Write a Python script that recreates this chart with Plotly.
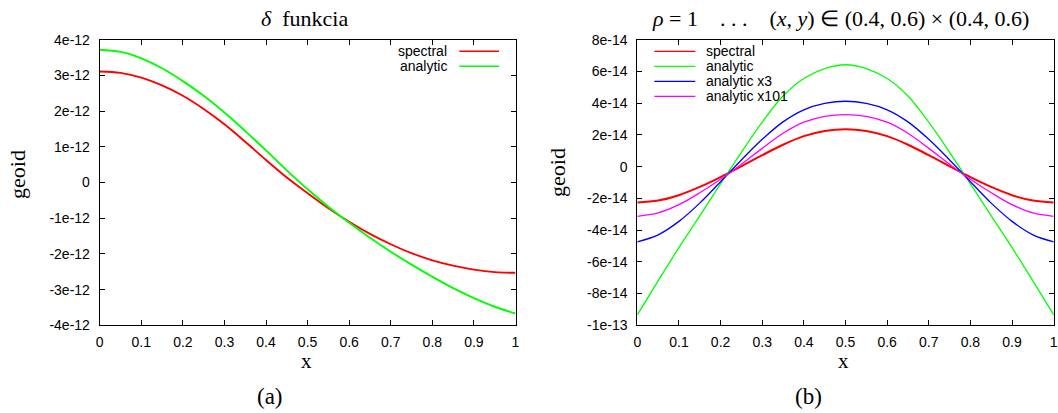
import plotly.graph_objects as go

# ---------------- data ----------------
x_pts = [0.00, 0.05, 0.10, 0.15, 0.20, 0.25, 0.30, 0.35, 0.40, 0.45, 0.50,
         0.55, 0.60, 0.65, 0.70, 0.75, 0.80, 0.85, 0.90, 0.95, 1.00]

# panel (a), values in units of 1e-12
a_spectral = [3.11, 3.07, 2.94, 2.72, 2.43, 2.06, 1.63, 1.14, 0.63, 0.14, -0.30,
              -0.72, -1.10, -1.44, -1.73, -1.98, -2.18, -2.33, -2.44, -2.51, -2.53]
a_analytic = [3.72, 3.66, 3.48, 3.20, 2.84, 2.43, 1.96, 1.44, 0.90, 0.34, -0.19,
              -0.68, -1.13, -1.55, -1.94, -2.30, -2.64, -2.96, -3.24, -3.48, -3.67]
a_scale = 1e-12

# panel (b), values in units of 1e-14
b_spectral = [-2.26, -2.14, -1.80, -1.28, -0.66, 0.02, 0.72, 1.38, 1.92, 2.25, 2.36,
              2.25, 1.92, 1.38, 0.72, 0.02, -0.66, -1.28, -1.80, -2.14, -2.26]
b_analytic = [-9.34, -7.20, -5.10, -3.10, -1.08, 0.90, 2.80, 4.45, 5.55, 6.18, 6.42,
              6.18, 5.55, 4.45, 2.80, 0.90, -1.08, -3.10, -5.10, -7.20, -9.34]
b_analytic_x3 = [-4.74, -4.30, -3.45, -2.30, -0.95, 0.42, 1.72, 2.82, 3.58, 3.98, 4.12,
                 3.98, 3.58, 2.82, 1.72, 0.42, -0.95, -2.30, -3.45, -4.30, -4.74]
b_analytic_x101 = [-3.13, -2.92, -2.40, -1.65, -0.80, 0.15, 1.15, 2.10, 2.80, 3.17, 3.28,
                   3.17, 2.80, 2.10, 1.15, 0.15, -0.80, -1.65, -2.40, -2.92, -3.13]
b_scale = 1e-14

x_ticks = [0, 0.1, 0.2, 0.3, 0.4, 0.5, 0.6, 0.7, 0.8, 0.9, 1]
x_ticktext = ["0", "0.1", "0.2", "0.3", "0.4", "0.5", "0.6", "0.7", "0.8", "0.9", "1"]
a_yticks = [-4e-12, -3e-12, -2e-12, -1e-12, 0, 1e-12, 2e-12, 3e-12, 4e-12]
a_yticktext = ["-4e-12", "-3e-12", "-2e-12", "-1e-12", "0", "1e-12", "2e-12", "3e-12", "4e-12"]
b_yticks = [-1e-13, -8e-14, -6e-14, -4e-14, -2e-14, 0, 2e-14, 4e-14, 6e-14, 8e-14]
b_yticktext = ["-1e-13", "-8e-14", "-6e-14", "-4e-14", "-2e-14", "0", "2e-14", "4e-14", "6e-14", "8e-14"]

a_names = ["spectral", "analytic"]
b_names = ["spectral", "analytic", "analytic x3", "analytic x101"]
colors = ["#ff0000", "#00ff00", "#0000ff", "#ff00ff"]

# ---------------- figure ----------------
W, H = 1058, 413
def px(x):
    return x / W
def py(y):
    return 1 - y / H

SANS = "Liberation Sans, Arial, sans-serif"
SERIF = "Liberation Serif, Times New Roman, serif"

fig = go.Figure()

a_series = [a_spectral, a_analytic]
for name, vals, col in zip(a_names, a_series, colors):
    fig.add_trace(go.Scatter(x=x_pts, y=[v * a_scale for v in vals], mode="lines",
                             line=dict(color=col, width=1.9, shape="spline"),
                             name=name, xaxis="x", yaxis="y", showlegend=False))

b_series = [b_spectral, b_analytic, b_analytic_x3, b_analytic_x101]
b_widths = [2.0, 1.3, 1.3, 1.3]
for name, vals, col, w in zip(b_names, b_series, colors, b_widths):
    fig.add_trace(go.Scatter(x=x_pts, y=[v * b_scale for v in vals], mode="lines",
                             line=dict(color=col, width=w, shape="spline"),
                             name=name, xaxis="x2", yaxis="y2", showlegend=False))

ydom = [py(325.3), py(39.7)]
common_ax = dict(showline=True, linecolor="black", linewidth=1, mirror="allticks",
                 ticks="inside", ticklen=5, tickcolor="black", tickwidth=1,
                 showgrid=False, zeroline=False, automargin=False,
                 tickfont=dict(family=SANS, size=14, color="black"))

fig.update_layout(
    width=W, height=H,
    margin=dict(l=0, r=0, t=0, b=0),
    paper_bgcolor="white", plot_bgcolor="white",
    showlegend=False,
    xaxis=dict(domain=[px(99.7), px(515.5)], range=[0, 1], anchor="y",
               tickvals=x_ticks, ticktext=x_ticktext, ticklabelstandoff=4, **common_ax),
    yaxis=dict(domain=ydom, range=[-4e-12, 4e-12], anchor="x",
               tickvals=a_yticks, ticktext=a_yticktext, ticklabelstandoff=6, **common_ax),
    xaxis2=dict(domain=[px(637.3), px(1053.7)], range=[0, 1], anchor="y2",
                tickvals=x_ticks, ticktext=x_ticktext, ticklabelstandoff=4, **common_ax),
    yaxis2=dict(domain=ydom, range=[-1e-13, 8e-14], anchor="x2",
                tickvals=b_yticks, ticktext=b_yticktext, ticklabelstandoff=6, **common_ax),
)

ann = []
def text(x, y, s, size, family=SERIF, xanchor="center", angle=0):
    ann.append(dict(x=px(x), y=py(y), xref="paper", yref="paper", text=s, showarrow=False,
                    xanchor=xanchor, yanchor="middle", textangle=angle,
                    font=dict(family=family, size=size, color="black")))

# titles
text(304, 18, "<i>δ</i>&nbsp; funkcia", 22)
text(840, 18, "<i>ρ</i> = 1 &nbsp;&nbsp;&nbsp;. . . &nbsp;&nbsp;&nbsp;(<i>x</i>, <i>y</i>) ∈ (0.4, 0.6) × (0.4, 0.6)", 22)
# axis labels
text(17, 175, "geoid", 22, angle=-90)
text(558, 173, "geoid", 22, angle=-90)
text(306, 361, "x", 21)
text(843, 361, "x", 21)
text(270, 396, "(a)", 23)
text(808, 396, "(b)", 23)

# legends (key samples drawn as paper shapes)
shapes = []
leg_a_y = [51.3, 66.3]
for name, col, yy in zip(a_names, colors, leg_a_y):
    text(449, yy, name, 14, family=SANS, xanchor="right")
    shapes.append(dict(type="line", xref="paper", yref="paper", x0=px(459.3), x1=px(499),
                       y0=py(yy), y1=py(yy), line=dict(color=col, width=1.5)))
leg_b_y = [51.3, 66.3, 81.3, 96.3]
for name, col, yy in zip(b_names, colors, leg_b_y):
    text(704.3, yy, name, 14, family=SANS, xanchor="left")
    shapes.append(dict(type="line", xref="paper", yref="paper", x0=px(654.3), x1=px(695.3),
                       y0=py(yy), y1=py(yy), line=dict(color=col, width=1.3)))

fig.update_layout(annotations=ann, shapes=shapes)
fig.write_html("out.html")
